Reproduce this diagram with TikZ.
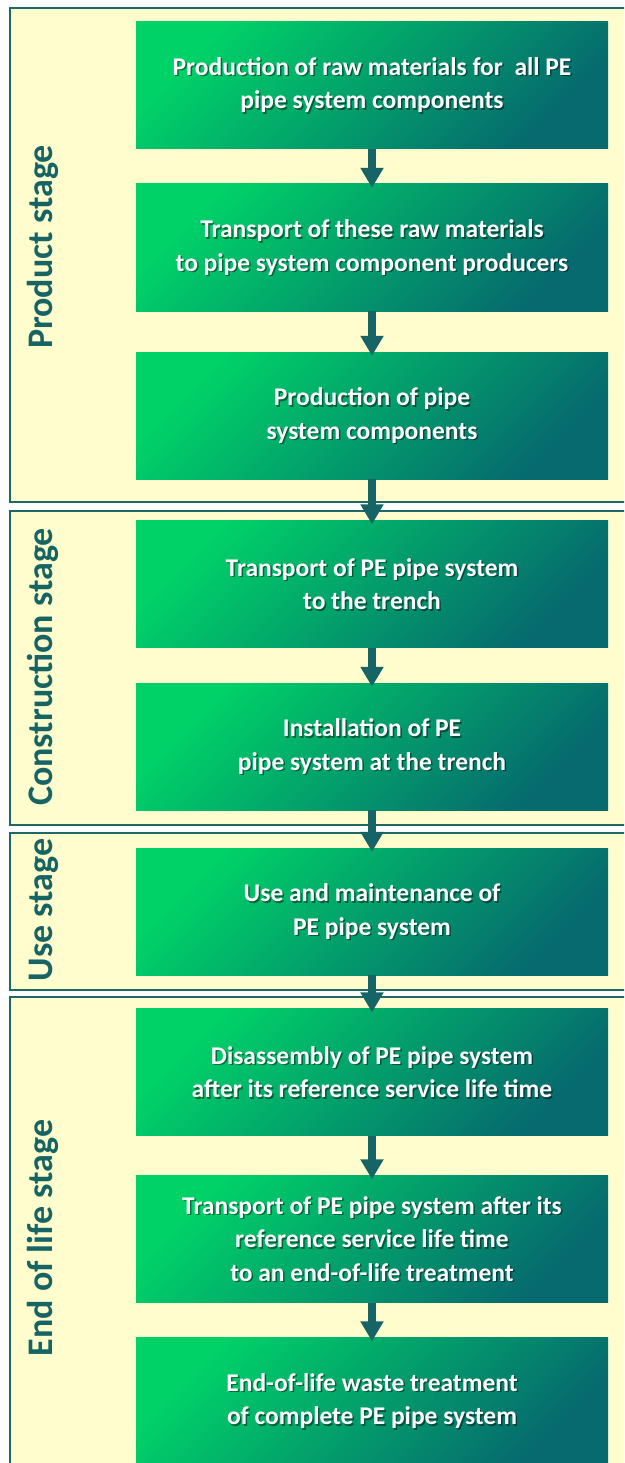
\documentclass[tikz,border=0pt]{standalone}
\usepackage{fontspec}
\setmainfont{Carlito}
\usetikzlibrary{arrows.meta}

\definecolor{cream}{RGB}{255,252,206}
\definecolor{framecol}{RGB}{30,104,104}
\definecolor{arrowcol}{RGB}{22,100,102}
\definecolor{labelcol}{RGB}{22,100,100}
\definecolor{boxlight}{RGB}{0,210,104}
\definecolor{boxdark}{RGB}{6,106,110}

\tikzset{
  stageframe/.style={draw=framecol, line width=2.2pt, fill=cream},
  stagelabel/.style={rotate=90, anchor=base, text=labelcol, font=\fontsize{36}{40}\selectfont\bfseries, inner sep=0pt},
  stepbox/.style={minimum width=472pt, minimum height=127pt, inner sep=0pt,
    top color=boxlight, bottom color=boxdark, shading angle=45},
  boxtext/.style={text=white, align=center, font=\fontsize{25.5}{33.5}\selectfont\bfseries, inner sep=0pt},
  boxshadow/.style={boxtext, text=black, opacity=0.45},
  flow/.style={draw=arrowcol, line width=8pt, -{Triangle[width=22pt,length=20pt]}, shorten >=-4pt}
}

\newcommand{\stepnode}[3]{%
  \node[stepbox] (#1) at (#2) {};
  \node[boxshadow] (#1s) at ([shift={(1.5pt,-1.5pt)}]#1.center) {#3};
  \node[boxtext] (#1t) at (#1.center) {#3};
}

\begin{document}
\begin{tikzpicture}[x=1pt,y=-1pt]
\useasboundingbox (0,0) rectangle (624,1463);
\clip (0,0) rectangle (624,1463);
\fill[white] (0,0) rectangle (624,1463);

% stage frames
\draw[stageframe] (10,8) rectangle (640,502);
\draw[stageframe] (10,511) rectangle (640,825);
\draw[stageframe] (10,833) rectangle (640,990);
\draw[stageframe] (10,997) rectangle (640,1480);

% stage labels
\node[stagelabel] (lprod) at (52,247) {Product stage};
\node[stagelabel] (lcons) at (52,667) {Construction stage};
\node[stagelabel] (luse) at (52,910) {Use stage};
\node[stagelabel] (leol) at (52,1238) {End of life stage};

% process steps
\stepnode{b1}{372,85}{Production of raw materials for\ \ all PE\\pipe system components}
\stepnode{b2}{372,247.5}{Transport of these raw materials\\to pipe system component producers}
\stepnode{b3}{372,415.5}{Production of pipe\\system components}
\stepnode{b4}{372,584}{Transport of PE pipe system\\to the trench}
\stepnode{b5}{372,746.5}{Installation of PE\\pipe system at the trench}
\stepnode{b6}{372,911.5}{Use and maintenance of\\PE pipe system}
\stepnode{b7}{372,1072}{Disassembly of PE pipe system\\after its reference service life time}
\stepnode{b8}{372,1239}{Transport of PE pipe system after its\\reference service life time\\to an end-of-life treatment}
\stepnode{b9}{372,1401}{End-of-life waste treatment\\of complete PE pipe system}

% flow arrows
\foreach \p/\q in {b1/b2,b2/b3,b3/b4,b4/b5,b5/b6,b6/b7,b7/b8,b8/b9}
  \draw[flow] (\p.south) -- (\q.north);
\end{tikzpicture}
\end{document}
